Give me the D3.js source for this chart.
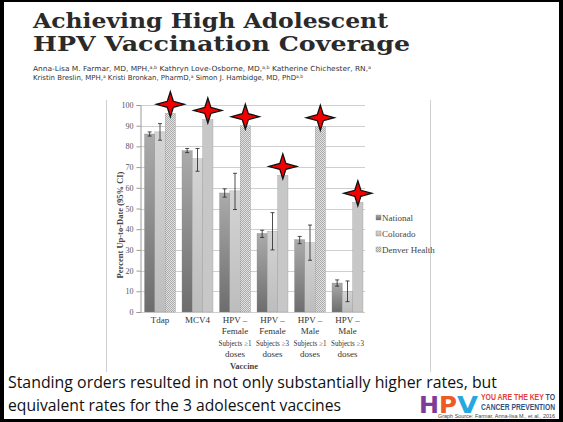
<!DOCTYPE html>
<html>
<head>
<meta charset="utf-8">
<script src="https://cdn.jsdelivr.net/npm/d3@7"></script>
<style>
	html, body { margin: 0; padding: 0; background: #fff; }
	svg { display: block; }
</style>
</head>
<body>
<svg id="slide" width="563" height="422"></svg>
<script>
// ---- data ----
const categories = ["Tdap", "MCV4", "HPV F1", "HPV F3", "HPV M1", "HPV M3"];
const categoryLines = [
	["Tdap"],
	["MCV4"],
	["HPV –", "Female", "Subjects ≥1", "doses"],
	["HPV –", "Female", "Subjects ≥3", "doses"],
	["HPV –", "Male", "Subjects ≥1", "doses"],
	["HPV –", "Male", "Subjects ≥3", "doses"]
];
const series = ["National", "Colorado", "Denver Health"];
const national = [86, 78, 57.5, 38, 35, 14];
const nationalLo = [85, 77, 55.5, 36, 33, 12.5];
const nationalHi = [87, 79, 59.5, 39.5, 36.5, 15.5];
const colorado = [87, 74, 58.5, 39, 33.5, 10];
const coloradoLo = [83, 68, 49.5, 30, 25, 5];
const coloradoHi = [91, 79, 67, 48, 42, 15];
const denver = [96, 93, 90, 66, 89.5, 53];
const yTicks = [0, 10, 20, 30, 40, 50, 60, 70, 80, 90, 100];

const svg = d3.select("#slide");

// patterns / gradients
const defs = svg.append("defs");
const gNat = defs.append("linearGradient").attr("id", "natFill").attr("x1", 0).attr("y1", 0).attr("x2", 0).attr("y2", 1);
gNat.append("stop").attr("offset", 0).attr("stop-color", "#ababab");
gNat.append("stop").attr("offset", 1).attr("stop-color", "#6d6d6d");
const gCol = defs.append("linearGradient").attr("id", "colFill").attr("x1", 0).attr("y1", 0).attr("x2", 0).attr("y2", 1);
gCol.append("stop").attr("offset", 0).attr("stop-color", "#d4d4d4");
gCol.append("stop").attr("offset", 1).attr("stop-color", "#bdbdbd");
const pat = defs.append("pattern").attr("id", "denFill").attr("width", 2).attr("height", 2).attr("patternUnits", "userSpaceOnUse");
pat.append("rect").attr("width", 2).attr("height", 2).attr("fill", "#e2e2e2");
pat.append("rect").attr("width", 1).attr("height", 1).attr("fill", "#ababab");
pat.append("rect").attr("x", 1).attr("y", 1).attr("width", 1).attr("height", 1).attr("fill", "#ababab");
const fills = ["url(#natFill)", "url(#colFill)", "url(#denFill)"];

// slide frame
svg.append("rect").attr("x", 0).attr("y", 0).attr("width", 4).attr("height", 422).attr("fill", "#000");
svg.append("rect").attr("x", 0).attr("y", 0).attr("width", 563).attr("height", 2).attr("fill", "#000");
svg.append("rect").attr("x", 559).attr("y", 0).attr("width", 4).attr("height", 422).attr("fill", "#000");
svg.append("rect").attr("x", 0).attr("y", 419).attr("width", 563).attr("height", 3).attr("fill", "#000");

// title
const title = svg.append("g").attr("font-family", "'DejaVu Serif', serif").attr("font-weight", "bold").attr("fill", "#2a2a2a");
title.append("text").attr("x", 33).attr("y", 27.5).attr("font-size", 20)
	.attr("textLength", 355).attr("lengthAdjust", "spacingAndGlyphs").text("Achieving High Adolescent");
title.append("text").attr("x", 33).attr("y", 51).attr("font-size", 20)
	.attr("textLength", 377).attr("lengthAdjust", "spacingAndGlyphs").text("HPV Vaccination Coverage");

const authors = svg.append("g").attr("font-family", "'DejaVu Sans', sans-serif").attr("font-size", 7).attr("fill", "#333");
const a1 = authors.append("text").attr("x", 33).attr("y", 71).attr("textLength", 338).attr("lengthAdjust", "spacingAndGlyphs");
a1.append("tspan").text("Anna-Lisa M. Farmar, MD, MPH,");
a1.append("tspan").attr("font-size", 4.5).attr("dy", -2.5).text("a,b");
a1.append("tspan").attr("dy", 2.5).text(" Kathryn Love-Osborne, MD,");
a1.append("tspan").attr("font-size", 4.5).attr("dy", -2.5).text("a,b");
a1.append("tspan").attr("dy", 2.5).text(" Katherine Chichester, RN,");
a1.append("tspan").attr("font-size", 4.5).attr("dy", -2.5).text("a");
const a2 = authors.append("text").attr("x", 33).attr("y", 80).attr("textLength", 270).attr("lengthAdjust", "spacingAndGlyphs");
a2.append("tspan").text("Kristin Breslin, MPH,");
a2.append("tspan").attr("font-size", 4.5).attr("dy", -2.5).text("a");
a2.append("tspan").attr("dy", 2.5).text(" Kristi Bronkan, PharmD,");
a2.append("tspan").attr("font-size", 4.5).attr("dy", -2.5).text("a");
a2.append("tspan").attr("dy", 2.5).text(" Simon J. Hambidge, MD, PhD");
a2.append("tspan").attr("font-size", 4.5).attr("dy", -2.5).text("a,b");

// chart image box edges
svg.append("line").attr("x1", 106.5).attr("x2", 106.5).attr("y1", 100).attr("y2", 372).attr("stroke", "#d0d0d0");
svg.append("line").attr("x1", 430.5).attr("x2", 430.5).attr("y1", 100).attr("y2", 372).attr("stroke", "#d0d0d0");

// scales
const x0 = d3.scaleBand().domain(categories).range([140, 365]);
const x1 = d3.scaleBand().domain(series).range([4.5, 35.5]);
const y = d3.scaleLinear().domain([0, 100]).range([312, 105]);

// grid
svg.append("g").selectAll("line").data(yTicks).join("line")
	.attr("x1", 140).attr("x2", 365)
	.attr("y1", (d) => Math.round(y(d)) + 0.5).attr("y2", (d) => Math.round(y(d)) + 0.5)
	.attr("stroke", "#cfcfcf").attr("stroke-width", 1);

// y axis
const yAxis = svg.append("g").attr("transform", "translate(140.5,0)")
	.call(d3.axisLeft(y).tickValues(yTicks).tickSize(4).tickPadding(3));
yAxis.select(".domain").attr("stroke", "#9a9a9a");
yAxis.selectAll(".tick line").attr("stroke", "#9a9a9a");
yAxis.selectAll(".tick text").attr("font-family", "'Liberation Serif', serif").attr("font-size", 8).attr("fill", "#555");

svg.append("text").attr("transform", "translate(123,225) rotate(-90)")
	.attr("text-anchor", "middle").attr("font-family", "'Liberation Serif', serif")
	.attr("font-weight", "bold").attr("font-size", 8.5).attr("fill", "#444")
	.text("Percent Up-to-Date (95% CI)");

// bars
const rows = categories.map((c, i) => ({
	cat: c,
	vals: [
		{ s: series[0], v: national[i], lo: nationalLo[i], hi: nationalHi[i] },
		{ s: series[1], v: colorado[i], lo: coloradoLo[i], hi: coloradoHi[i] },
		{ s: series[2], v: denver[i] }
	]
}));

const groups = svg.append("g").selectAll("g").data(rows).join("g")
	.attr("transform", (d) => `translate(${x0(d.cat)},0)`);

groups.selectAll("rect").data((d) => d.vals).join("rect")
	.attr("x", (d) => x1(d.s))
	.attr("width", x1.bandwidth())
	.attr("y", (d) => y(d.v))
	.attr("height", (d) => y(0) - y(d.v))
	.attr("fill", (d, i) => fills[i])
	.attr("stroke", "#8a8a8a").attr("stroke-width", 0.3);

// error bars
const errs = groups.selectAll("g.err").data((d) => d.vals.filter((v) => v.lo !== undefined)).join("g").attr("class", "err");
errs.append("line")
	.attr("x1", (d) => x1(d.s) + x1.bandwidth() / 2).attr("x2", (d) => x1(d.s) + x1.bandwidth() / 2)
	.attr("y1", (d) => y(d.lo)).attr("y2", (d) => y(d.hi))
	.attr("stroke", "#222").attr("stroke-width", 0.8);
["lo", "hi"].forEach((k) => {
	errs.append("line")
		.attr("x1", (d) => x1(d.s) + x1.bandwidth() / 2 - 2).attr("x2", (d) => x1(d.s) + x1.bandwidth() / 2 + 2)
		.attr("y1", (d) => y(d[k])).attr("y2", (d) => y(d[k]))
		.attr("stroke", "#222").attr("stroke-width", 0.8);
});

// category labels, one text per line; long lines get a smaller font, then a squeeze
const labels = svg.append("g").attr("font-family", "'Liberation Serif', serif").attr("font-size", 9).attr("fill", "#333").attr("text-anchor", "middle");
categories.forEach((c, i) => {
	categoryLines[i].forEach((t, j) => {
		const el = labels.append("text")
			.attr("x", x0(c) + 20)
			.attr("y", 323 + j * 11.3)
			.text(t);
		const w = el.node().getComputedTextLength();
		if (w > 33) {
			const fs = Math.max(7.6, (9 * 33) / w);
			el.attr("font-size", fs);
			if (el.node().getComputedTextLength() > 33) {
				el.attr("textLength", 33).attr("lengthAdjust", "spacingAndGlyphs");
			}
		}
	});
});

svg.append("text").attr("x", 244).attr("y", 369).attr("text-anchor", "middle")
	.attr("font-family", "'Liberation Serif', serif").attr("font-weight", "bold").attr("font-size", 8.5).attr("fill", "#444")
	.text("Vaccine");

// legend
const legend = svg.append("g").selectAll("g").data(series).join("g")
	.attr("transform", (d, i) => `translate(376,${218 + i * 16})`);
legend.append("rect").attr("x", 0).attr("y", -3).attr("width", 5).attr("height", 5)
	.attr("fill", (d, i) => fills[i]).attr("stroke", "#888").attr("stroke-width", 0.4);
legend.append("text").attr("x", 6).attr("y", 2.5)
	.attr("font-family", "'Liberation Serif', serif").attr("font-size", 9).attr("fill", "#444")
	.text((d) => d);

// red stars over Denver Health bars
const star = "M0,-12.5 L3,-3 L14,0 L3,3 L0,12.5 L-3,3 L-14,0 L-3,-3 Z";
svg.append("g").selectAll("path").data(rows).join("path")
	.attr("d", star)
	.attr("transform", (d) => `translate(${x0(d.cat) + x1(series[2]) + x1.bandwidth() / 2},${y(d.vals[2].v) - 9})`)
	.attr("fill", "#f40000").attr("stroke", "#111").attr("stroke-width", 1.3).attr("stroke-linejoin", "miter");

// bottom statement
const foot = svg.append("g").attr("font-family", "'Open Sans', sans-serif").attr("font-size", 16.5).attr("fill", "#111");
foot.append("text").attr("x", 8).attr("y", 388).attr("textLength", 489).attr("lengthAdjust", "spacingAndGlyphs")
	.text("Standing orders resulted in not only substantially higher rates, but");
foot.append("text").attr("x", 8).attr("y", 411).attr("textLength", 333).attr("lengthAdjust", "spacingAndGlyphs")
	.text("equivalent rates for the 3 adolescent vaccines");

// HPV logo
const logo = svg.append("g").attr("font-family", "'DejaVu Sans', sans-serif").attr("font-weight", "bold");
logo.append("text").attr("x", 419).attr("y", 413).attr("font-size", 23).attr("fill", "#7d3c98")
	.attr("textLength", 20).attr("lengthAdjust", "spacingAndGlyphs").text("H");
logo.append("text").attr("x", 439).attr("y", 413).attr("font-size", 23).attr("fill", "#ee5a24")
	.attr("textLength", 18).attr("lengthAdjust", "spacingAndGlyphs").text("P");
logo.append("text").attr("x", 457).attr("y", 413).attr("font-size", 23).attr("fill", "#27a7df")
	.attr("textLength", 21).attr("lengthAdjust", "spacingAndGlyphs").text("V");
// condensed look: small font stretched vertically
const key = logo.append("text").attr("transform", "translate(481,400) scale(1,1.35)")
	.attr("font-family", "'Liberation Sans', sans-serif").attr("font-size", 6.6)
	.attr("textLength", 74).attr("lengthAdjust", "spacingAndGlyphs");
key.append("tspan").attr("fill", "#e2403b").text("YOU ARE THE KEY ");
key.append("tspan").attr("fill", "#3a4d6e").text("TO");
logo.append("text").attr("transform", "translate(481,410) scale(1,1.35)")
	.attr("font-family", "'Liberation Sans', sans-serif").attr("font-size", 6.6).attr("fill", "#34507e")
	.attr("textLength", 74).attr("lengthAdjust", "spacingAndGlyphs").text("CANCER PREVENTION");
svg.append("text").attr("x", 438).attr("y", 417.5).attr("font-family", "'Liberation Sans', sans-serif")
	.attr("font-size", 4.5).attr("fill", "#444").attr("textLength", 117).attr("lengthAdjust", "spacingAndGlyphs")
	.text("Graph Source: Farmar, Anna-lisa M., et al., 2016");
</script>
</body>
</html>
